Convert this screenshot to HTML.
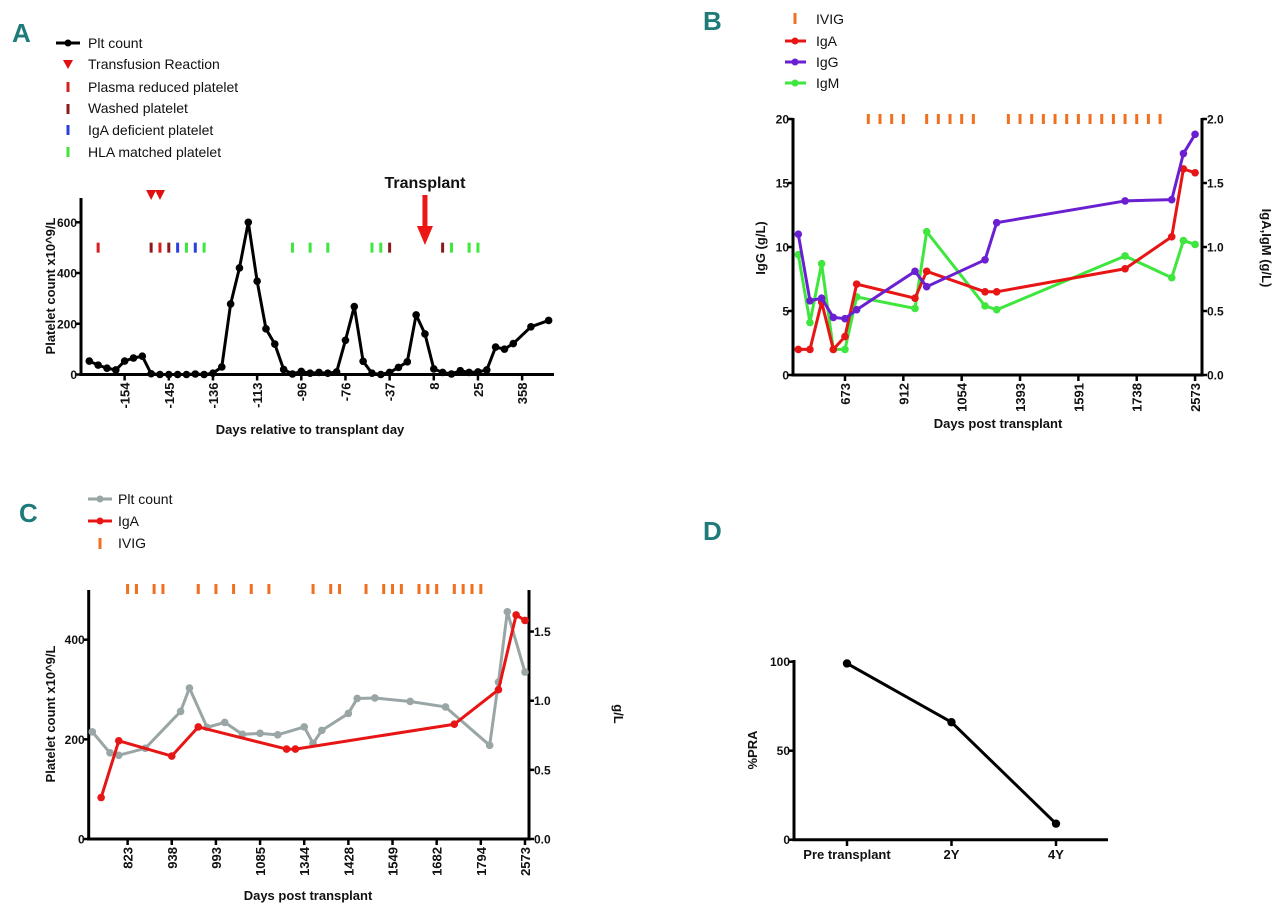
<!DOCTYPE html>
<html><head><meta charset="utf-8">
<style>
html,body{margin:0;padding:0;background:#fff;}
svg{display:block;font-family:"Liberation Sans",Arial,sans-serif;}
.t{font-weight:bold;font-size:13px;fill:#111;}
.yt{font-weight:bold;font-size:12px;fill:#111;}
.lg{font-size:14px;fill:#111;}
.pl{font-family:"Liberation Sans",sans-serif;font-weight:bold;font-size:26px;fill:#1f7a7a;}
</style></head>
<body>
<svg id="fig" width="1280" height="911" viewBox="0 0 1280 911">
<g>
<text class="pl" x="12" y="42">A</text>
<text class="pl" x="703" y="30">B</text>
<text class="pl" x="19" y="522">C</text>
<text class="pl" x="703" y="540">D</text>
</g>
<g>
<line x1="56" y1="43" x2="80" y2="43" stroke="#000" stroke-width="3"/><circle cx="68" cy="43" r="3.5" fill="#000"/>
<text class="lg" x="88" y="48">Plt count</text>
<polygon points="63,60 73,60 68,69" fill="#e01010"/>
<text class="lg" x="88" y="69">Transfusion Reaction</text>
<rect x="66.5" y="82" width="3" height="10" fill="#d42020"/>
<text class="lg" x="88" y="92">Plasma reduced platelet</text>
<rect x="66.5" y="104" width="3" height="10" fill="#8b1a1a"/>
<text class="lg" x="88" y="113">Washed platelet</text>
<rect x="66.5" y="125" width="3" height="10" fill="#2a3fe0"/>
<text class="lg" x="88" y="135">IgA deficient platelet</text>
<rect x="66.5" y="147" width="3" height="10" fill="#3ee63e"/>
<text class="lg" x="88" y="157">HLA matched platelet</text>
</g>
<g>
<rect x="793.5" y="13" width="3" height="11" fill="#f07020"/>
<text class="lg" x="816" y="24">IVIG</text>
<line x1="785" y1="41" x2="806" y2="41" stroke="#e81515" stroke-width="3"/><circle cx="795" cy="41" r="3.5" fill="#e81515"/>
<text class="lg" x="816" y="46">IgA</text>
<line x1="785" y1="62" x2="806" y2="62" stroke="#6a1fd0" stroke-width="3"/><circle cx="795" cy="62" r="3.5" fill="#6a1fd0"/>
<text class="lg" x="816" y="67">IgG</text>
<line x1="785" y1="83" x2="806" y2="83" stroke="#3ee63e" stroke-width="3"/><circle cx="795" cy="83" r="3.5" fill="#3ee63e"/>
<text class="lg" x="816" y="88">IgM</text>
</g>
<g>
<line x1="88" y1="499" x2="112" y2="499" stroke="#9aa5a5" stroke-width="3"/><circle cx="100" cy="499" r="3.5" fill="#9aa5a5"/>
<text class="lg" x="118" y="504">Plt count</text>
<line x1="88" y1="521" x2="112" y2="521" stroke="#e81515" stroke-width="3"/><circle cx="100" cy="521" r="3.5" fill="#e81515"/>
<text class="lg" x="118" y="526">IgA</text>
<rect x="98.5" y="538" width="3" height="11" fill="#f07020"/>
<text class="lg" x="118" y="548">IVIG</text>
</g>
<g id="plots"></g>
</svg>
<script>
// ---------- Panel A data ----------
const aIdx = [0,1,2,3,4,5,6,7,8,9,10,11,12,13,14,15,16,17,18,19,20,21,22,23,24,25,26,27,28,29,30,31,32,33,34,35,36,37,38,39,40,41,42,43,44,45,46,47,48,50,52];
const aPlt = [53,37,25,18,53,65,72,3,0,0,0,0,2,0,5,30,278,420,600,368,180,120,20,2,12,5,8,5,10,135,268,52,5,0,8,28,50,235,160,22,8,2,15,8,10,18,108,100,122,188,213];
const aTickIdx = [4,9,14,19,24,29,34,39,44,49];
const aTickLabels = ["-154","-145","-136","-113","-96","-76","-37","8","25","358"];
const aYTicks = [0,200,400,600];
const aPlasmaIdx = [1,8];
const aWashedIdx = [7,9,34,40];
const aIgaDefIdx = [10,12];
const aHlaIdx = [11,13,23,25,27,32,33,41,43,44];
const aReactionIdx = [7,8];
const aTransplantIdx = 38;
// ---------- Panel B data ----------
const bIdx = [0,1,2,3,4,5,10,11,16,17,28,32,33,34];
const bIgG = [11,5.8,6,4.5,4.4,5.1,8.1,6.9,9,11.9,13.6,13.7,17.3,18.8];
const bIgA = [0.2,0.2,0.57,0.2,0.3,0.71,0.6,0.81,0.65,0.65,0.83,1.08,1.61,1.58];
const bIgM = [0.94,0.41,0.87,0.2,0.2,0.61,0.52,1.12,0.54,0.51,0.93,0.76,1.05,1.02];
const bIvigIdx = [6,7,8,9,11,12,13,14,15,18,19,20,21,22,23,24,25,26,27,28,29,30,31];
const bTickIdx = [4,9,14,19,24,29,34];
const bTickLabels = ["673","912","1054","1393","1591","1738","2573"];
const bYTicks = [0,5,10,15,20];
const bY2Ticks = [0,0.5,1,1.5,2];
// ---------- Panel C data ----------
const cPltIdx = [0,2,3,6,10,11,13,15,17,19,21,24,25,26,29,30,32,36,40,45,46,47,49];
const cPlt = [215,173,168,182,256,303,224,234,210,212,209,225,192,218,252,282,283,276,265,188,315,456,335];
const cIgaIdx = [1,3,9,12,22,23,41,46,48,49];
const cIga = [0.3,0.71,0.6,0.81,0.65,0.65,0.83,1.08,1.62,1.58];
const cIvigIdx = [4,5,7,8,12,14,16,18,20,25,27,28,31,33,34,35,37,38,39,41,42,43,44];
const cTickIdx = [4,9,14,19,24,29,34,39,44,49];
const cTickLabels = ["823","938","993","1085","1344","1428","1549","1682","1794","2573"];
const cYTicks = [0,200,400];
const cY2Ticks = [0,0.5,1,1.5];
// ---------- Panel D data ----------
const dCats = ["Pre transplant","2Y","4Y"];
const dPra = [99,66,9];
const dYTicks = [0,50,100];

const NS = "http://www.w3.org/2000/svg";
const root = document.getElementById("plots");
function mk(tag, attrs, parent, txt){
  const e = document.createElementNS(NS, tag);
  for (const k in attrs) e.setAttribute(k, attrs[k]);
  if (txt !== undefined) e.textContent = txt;
  (parent || root).appendChild(e);
  return e;
}
function grp(name){
  const g = mk("g", {});
  
  
  return g;
}
function axisLine(g, x1,y1,x2,y2,name){
  const l = mk("line",{x1:x1,y1:y1,x2:x2,y2:y2,stroke:"#000","stroke-width":3},g);
  
  
}
function yTicksLeft(g, ticks, fy, x){
  ticks.forEach(v=>{
    mk("line",{x1:x-5,y1:fy(v),x2:x,y2:fy(v),stroke:"#000","stroke-width":2.5},g);
    const t = mk("text",{x:x-4,y:fy(v)+4.5,"text-anchor":"end",class:"yt"},g,String(v));
    
    
  });
}
function yTicksRight(g, ticks, fy, x){
  ticks.forEach(v=>{
    mk("line",{x1:x,y1:fy(v),x2:x+5,y2:fy(v),stroke:"#000","stroke-width":2.5},g);
    const t = mk("text",{x:x+5,y:fy(v)+4.5,"text-anchor":"start",class:"yt"},g,v.toFixed(1));
    
    
  });
}
function xTicksRot(g, idx, labels, fx, y){
  idx.forEach((i,k)=>{
    const x = fx(i);
    mk("line",{x1:x,y1:y,x2:x,y2:y+6,stroke:"#000","stroke-width":2.5},g);
    const t = mk("text",{x:0,y:0,"text-anchor":"end",class:"t",transform:"translate("+(x+5)+","+(y+8)+") rotate(-90)"},g,labels[k]);
    
    
  });
}
function series(g, xs, ys, color, name, r){
  const pts = xs.map((x,k)=>x+","+ys[k]).join(" ");
  const pl = mk("polyline",{points:pts,fill:"none",stroke:color,"stroke-width":3,"stroke-linejoin":"round"},g);
  
  
  xs.forEach((x,k)=>{
    const c = mk("circle",{cx:x,cy:ys[k],r:r||3.8,fill:color},g);
    
    
  });
}
function ticksMarks(g, idx, fx, yc, color, name){
  idx.forEach(i=>{
    const m = mk("rect",{x:fx(i)-1.5,y:yc-5,width:3,height:10,fill:color},g);
    
    
  });
}
function title(g, txt, x, y, rot, name){
  const t = mk("text",{x:0,y:0,"text-anchor":"middle",class:"t","font-size":"14",transform:"translate("+x+","+y+")"+(rot?" rotate("+rot+")":"")},g,txt);
  
  
}

// ---------- Panel A ----------
(function(){
  const g = grp("panel-a-chart");
  const fx = i => 89.3 + 8.833*i;
  const fy = v => 374.5 - v*0.2537;
  axisLine(g, 81, 198, 81, 375.5, "y-axis-a");
  axisLine(g, 79.5, 374.5, 554, 374.5, "x-axis-a");
  yTicksLeft(g, aYTicks, fy, 81);
  xTicksRot(g, aTickIdx, aTickLabels, fx, 374.5);
  series(g, aIdx.map(fx), aPlt.map(fy), "#000", "plt-count");
  const ym = fy(500);
  ticksMarks(g, aPlasmaIdx, fx, ym, "#d42020", "plasma-reduced-marker");
  ticksMarks(g, aWashedIdx, fx, ym, "#8b1a1a", "washed-marker");
  ticksMarks(g, aIgaDefIdx, fx, ym, "#2a3fe0", "iga-deficient-marker");
  ticksMarks(g, aHlaIdx, fx, ym, "#3ee63e", "hla-matched-marker");
  aReactionIdx.forEach(i=>{
    const x = fx(i);
    const p = mk("polygon",{points:(x-5)+",190 "+(x+5)+",190 "+x+",200",fill:"#e01010"},g);
    
    
  });
  const tx = fx(aTransplantIdx);
  const ar = mk("path",{d:"M"+(tx-2.5)+",195 L"+(tx+2.5)+",195 L"+(tx+2.5)+",226 L"+(tx+8)+",226 L"+tx+",245 L"+(tx-8)+",226 L"+(tx-2.5)+",226 Z",fill:"#ee1515"},g);
  
  
  const tt = mk("text",{x:tx,y:188,"text-anchor":"middle","font-weight":"bold","font-size":"16",fill:"#111"},g,"Transplant");
  
  
  title(g, "Platelet count x10^9/L", 55, 286, -90, "y-axis-title-a");
  title(g, "Days relative to transplant day", 310, 434, 0, "x-axis-title-a");
})();

// ---------- Panel B ----------
(function(){
  const g = grp("panel-b-chart");
  const fx = i => 798.3 + 11.67*i;
  const fy = v => 375 - 12.8*v;
  const fy2 = v => 375 - 128*v;
  axisLine(g, 793, 118, 793, 376.5, "y-axis-b");
  axisLine(g, 1202, 118, 1202, 376.5, "y2-axis-b");
  axisLine(g, 791.5, 375, 1203.5, 375, "x-axis-b");
  yTicksLeft(g, bYTicks, fy, 793);
  yTicksRight(g, bY2Ticks, fy2, 1202);
  xTicksRot(g, bTickIdx, bTickLabels, fx, 375);
  ticksMarks(g, bIvigIdx, fx, fy(20), "#f07020", "ivig-marker-b");
  series(g, bIdx.map(fx), bIgM.map(fy2), "#3ee63e", "igm");
  series(g, bIdx.map(fx), bIgA.map(fy2), "#e81515", "iga");
  series(g, bIdx.map(fx), bIgG.map(fy), "#6a1fd0", "igg");
  title(g, "IgG (g/L)", 765, 248, -90, "y-axis-title-b");
  title(g, "IgA,IgM (g/L)", 1262, 248, 90, "y2-axis-title-b");
  title(g, "Days post transplant", 998, 428, 0, "x-axis-title-b");
})();

// ---------- Panel C ----------
(function(){
  const g = grp("panel-c-chart");
  const fx = i => 92.3 + 8.83*i;
  const fy = v => 839 - 0.4983*v;
  const fy2 = v => 839 - 138.3*v;
  axisLine(g, 88.7, 590, 88.7, 840.5, "y-axis-c");
  axisLine(g, 529, 590, 529, 840.5, "y2-axis-c");
  axisLine(g, 87, 839, 530.5, 839, "x-axis-c");
  yTicksLeft(g, cYTicks, fy, 88.7);
  yTicksRight(g, cY2Ticks, fy2, 529);
  xTicksRot(g, cTickIdx, cTickLabels, fx, 839);
  ticksMarks(g, cIvigIdx, fx, 589, "#f07020", "ivig-marker-c");
  series(g, cPltIdx.map(fx), cPlt.map(fy), "#9aa5a5", "plt-count-c");
  series(g, cIgaIdx.map(fx), cIga.map(fy2), "#e81515", "iga-c");
  title(g, "Platelet count x10^9/L", 55, 714, -90, "y-axis-title-c");
  title(g, "g/L", 614, 714, 90, "y2-axis-title-c");
  title(g, "Days post transplant", 308, 900, 0, "x-axis-title-c");
})();

// ---------- Panel D ----------
(function(){
  const g = grp("panel-d-chart");
  const fx = i => 847 + 104.5*i;
  const fy = v => 839.7 - 1.78*v;
  axisLine(g, 794, 660, 794, 841, "y-axis-d");
  axisLine(g, 792.5, 839.7, 1108, 839.7, "x-axis-d");
  yTicksLeft(g, dYTicks, fy, 794);
  dCats.forEach((c,i)=>{
    mk("line",{x1:fx(i),y1:839.7,x2:fx(i),y2:846,stroke:"#000","stroke-width":2.5},g);
    const t = mk("text",{x:fx(i),y:859,"text-anchor":"middle",class:"t"},g,c);
    
    
  });
  series(g, dCats.map((c,i)=>fx(i)), dPra.map(fy), "#000", "pra", 4.2);
  title(g, "%PRA", 757, 750, -90, "y-axis-title-d");
})();
</script>
</body></html>
